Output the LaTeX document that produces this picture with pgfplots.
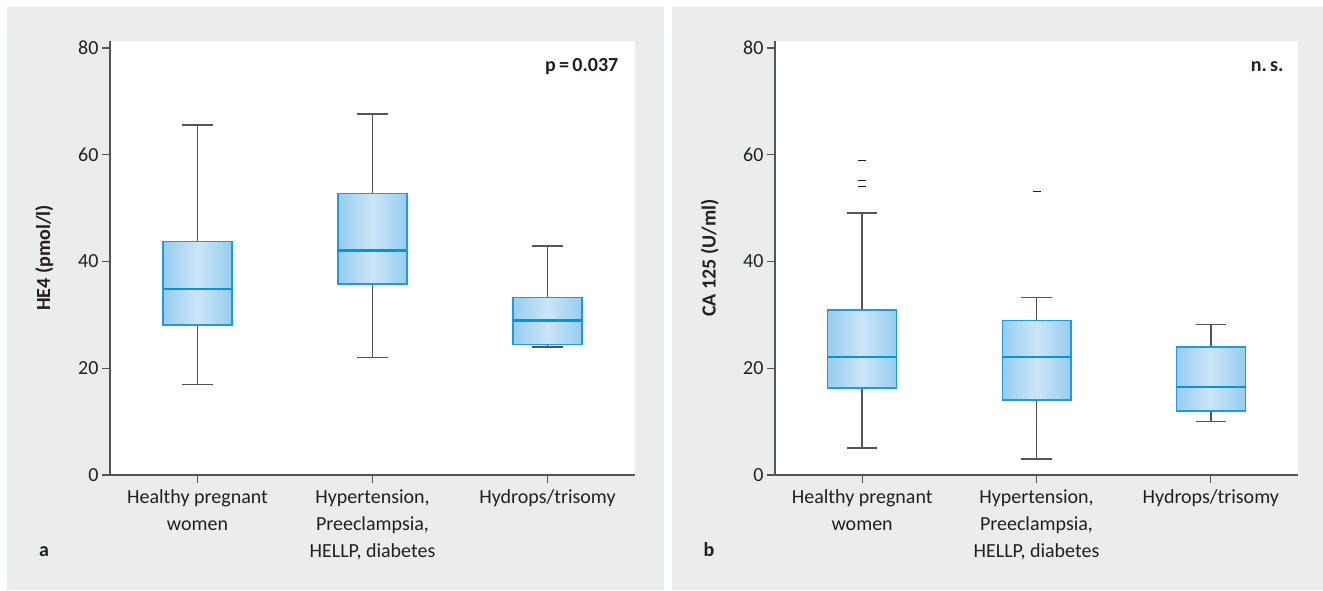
\documentclass[border=0pt]{standalone}
\usepackage{pgfplots}
\pgfplotsset{compat=1.18}
\usepgfplotslibrary{statistics}
\usepackage{fontspec}
\setmainfont{Carlito}
\definecolor{panelgray}{HTML}{EBECEC}
\definecolor{boxedge}{RGB}{30,155,220}
\definecolor{boxout}{RGB}{150,205,240}
\definecolor{boxin}{RGB}{204,229,247}
\definecolor{medcol}{RGB}{0,150,215}
\definecolor{axgray}{RGB}{85,85,85}
\definecolor{txt}{RGB}{35,31,32}

\pgfplotsset{
  mybox/.style={
    scale only axis, height=434pt,
    xmin=-0.5, xmax=2.5, ymin=0, ymax=81.31,
    axis x line*=bottom, axis y line*=left,
    axis line style={axgray, line width=1.2pt, -},
    axis background/.style={fill=white},
    tick align=outside, major tick length=8pt,
    tick style={axgray, line width=1.2pt},
    xtick={0,1,2}, ytick={0,20,40,60,80},
    xticklabels={{Healthy pregnant\\women},{Hypertension,\\Preeclampsia,\\HELLP, diabetes},{Hydrops/trisomy}},
    xticklabel style={align=center, font=\fontsize{20}{27}\selectfont, text=txt, yshift=-3pt},
    yticklabel style={font=\fontsize{20}{24}\selectfont, text=txt},
    /pgf/number format/assume math mode=true,
    every axis y label/.style={at={(axis description cs:-0.125,0.5)}, rotate=90, anchor=center, font=\fontsize{20}{24}\selectfont\bfseries, text=txt},
    boxplot/draw direction=y,
    boxplot/box extend=0.394,
    boxplot/whisker extend=0.175,
    boxplot/every box/.style={draw=boxedge, line width=1.3pt, left color=boxout, right color=boxout, middle color=boxin},
    boxplot/every median/.style={draw=medcol, line width=2.8pt},
    boxplot/every whisker/.style={draw=axgray, line width=1.4pt},
  }
}

\begin{document}
\begin{tikzpicture}
\fill[white] (0pt,0pt) rectangle (1323pt,590pt);
\fill[panelgray] (7pt,0pt) rectangle (664pt,583pt);
\fill[panelgray] (672pt,0pt) rectangle (1323pt,583pt);

\begin{axis}[mybox, width=525pt, at={(110pt,115pt)}, anchor=south west, ylabel={HE4 (pmol/l)}]
\addplot[boxplot prepared={draw position=0, lower whisker=17.0, lower quartile=28.1, median=34.85, upper quartile=43.8, upper whisker=65.6}] coordinates {};
\addplot[boxplot prepared={draw position=1, lower whisker=22.0, lower quartile=35.8, median=42.0, upper quartile=52.8, upper whisker=67.6}] coordinates {};
\addplot[boxplot prepared={draw position=2, lower whisker=24.0, lower quartile=24.5, median=29.0, upper quartile=33.3, upper whisker=42.9}] coordinates {};
\node[anchor=base east, font=\fontsize{20}{24}\selectfont\bfseries, text=txt] at (rel axis cs:0.975,0.929) {p\,=\,0.037};
\end{axis}

\begin{axis}[mybox, width=523pt, at={(775pt,115pt)}, anchor=south west, ylabel={CA 125 (U/ml)}]
\addplot[boxplot prepared={draw position=0, lower whisker=5.06, lower quartile=16.3, median=22.1, upper quartile=30.9, upper whisker=49.1}, mark=-, mark size=4pt, mark options={draw=txt, line width=1.0pt}] table[row sep=\\, y index=0] {data\\ 59.0\\ 55.1\\ 54.0\\};
\addplot[boxplot prepared={draw position=1, lower whisker=3.0, lower quartile=14.05, median=22.1, upper quartile=29.0, upper whisker=33.2}, mark=-, mark size=4pt, mark options={draw=txt, line width=1.0pt}] table[row sep=\\, y index=0] {data\\ 53.2\\};
\addplot[boxplot prepared={draw position=2, lower whisker=10.0, lower quartile=12.0, median=16.5, upper quartile=24.0, upper whisker=28.2}] coordinates {};
\node[anchor=base east, font=\fontsize{20}{24}\selectfont\bfseries, text=txt] at (rel axis cs:0.979,0.929) {n.\,s.};
\end{axis}

\node[anchor=base, font=\fontsize{20}{24}\selectfont\bfseries, text=txt] at (44pt,34pt) {a};
\node[anchor=base, font=\fontsize{20}{24}\selectfont\bfseries, text=txt] at (709pt,34pt) {b};
\end{tikzpicture}
\end{document}
